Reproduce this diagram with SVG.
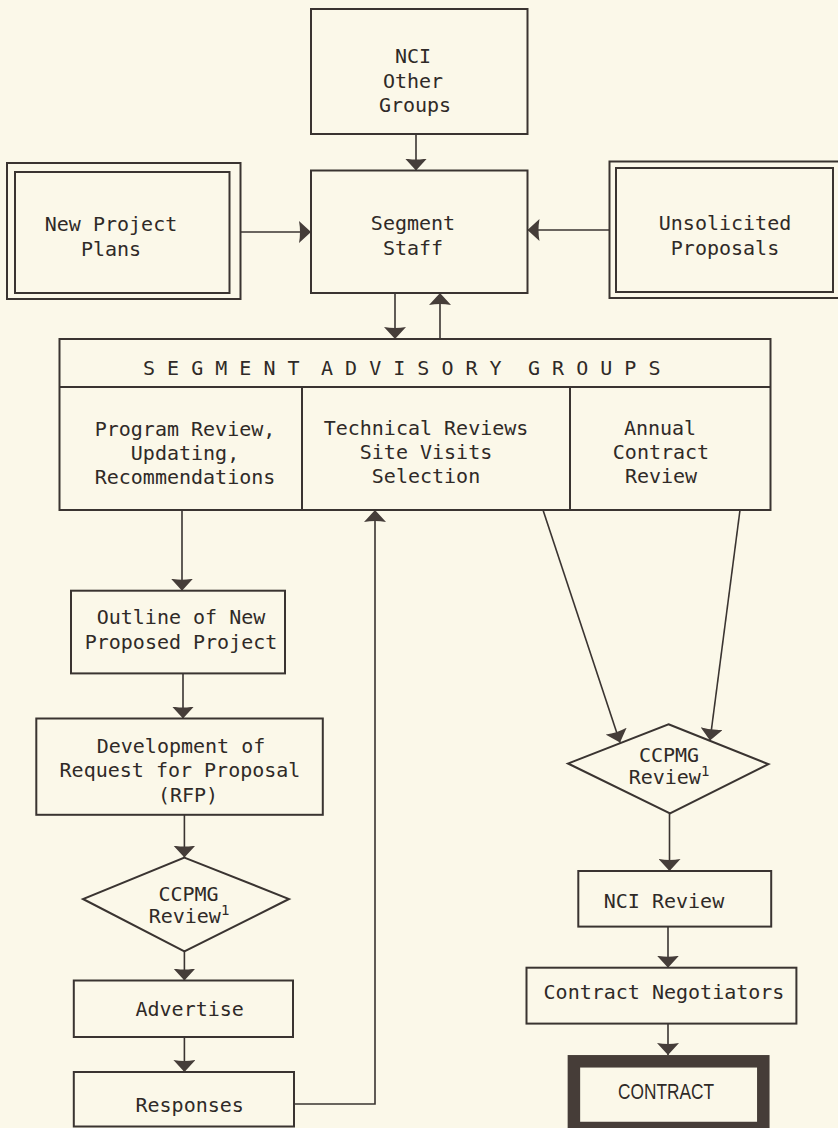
<svg xmlns="http://www.w3.org/2000/svg" width="838" height="1128" viewBox="0 0 838 1128">
<defs>
<style>
.box{fill:none;stroke:#3a3431;stroke-width:2}
.ln{fill:none;stroke:#3a3431;stroke-width:1.6;marker-end:url(#ah)}
.t{font-family:"DejaVu Sans Mono","Liberation Mono",monospace;font-size:20px;fill:#2f2a27;text-anchor:middle}
.sup{font-size:14px}
</style>
<marker id="ah" viewBox="0 -11 12 22" markerWidth="12" markerHeight="22" refX="12" refY="0" orient="auto" markerUnits="userSpaceOnUse">
<path d="M0,-11 Q2,0 0,11 L12,0 Z" fill="#453d39"/>
</marker>
</defs>
<rect width="838" height="1128" fill="#fbf8e9"/>

<g id="connectors">
<path class="ln" d="M416,135 V170.5"/>
<path class="ln" d="M240.5,232 H311"/>
<path class="ln" d="M609.5,230 H527.5"/>
<path class="ln" d="M395,293 V339"/>
<path class="ln" d="M440,339 V293"/>
<path class="ln" d="M182,510 V590.7"/>
<path class="ln" d="M183,673.4 V718.5"/>
<path class="ln" d="M184.4,814.8 V857.6"/>
<path class="ln" d="M184.4,952 V980.5"/>
<path class="ln" d="M184.4,1037 V1072"/>
<path class="ln" d="M294,1104 H375 V510"/>
<path class="ln" d="M543,510 L620,742.5"/>
<path class="ln" d="M740,510 L710,740.5"/>
<path class="ln" d="M669.5,813.5 V871"/>
<path class="ln" d="M668,926.6 V967.7"/>
<path class="ln" d="M668,1023.6 V1055"/>
</g>

<g id="nci-other-groups">
<rect class="box" x="311" y="9" width="216.5" height="125"/>
<text class="t" x="413" y="63">NCI</text>
<text class="t" x="413" y="88">Other</text>
<text class="t" x="415" y="112">Groups</text>
</g>

<g id="segment-staff">
<rect class="box" x="311" y="170.5" width="216.5" height="122.5"/>
<text class="t" x="413" y="230">Segment</text>
<text class="t" x="413" y="255">Staff</text>
</g>

<g id="new-project-plans">
<rect class="box" x="7" y="163" width="233.5" height="136" stroke-width="1.6"/>
<rect class="box" x="15" y="172" width="214.5" height="121" stroke-width="1.6"/>
<text class="t" x="111" y="231">New Project</text>
<text class="t" x="111" y="256">Plans</text>
</g>

<g id="unsolicited-proposals">
<path class="box" stroke-width="1.6" d="M840,161.5 H609.5 V298 H840"/>
<rect class="box" x="616" y="168" width="217" height="124" stroke-width="1.6"/>
<text class="t" x="725" y="230">Unsolicited</text>
<text class="t" x="725" y="255">Proposals</text>
</g>

<g id="segment-advisory-groups">
<rect class="box" x="59.5" y="339" width="711" height="171"/>
<line class="box" x1="59.5" y1="387" x2="770.5" y2="387"/>
<line class="box" x1="302" y1="387" x2="302" y2="510"/>
<line class="box" x1="570" y1="387" x2="570" y2="510"/>
<text class="t" y="375" style="text-anchor:start"><tspan x="143">S E G M E N T</tspan><tspan x="321">A D V I S O R Y</tspan><tspan x="528">G R O U P S</tspan></text>
<text class="t" x="185" y="436">Program Review,</text>
<text class="t" x="185" y="460">Updating,</text>
<text class="t" x="185" y="484">Recommendations</text>
<text class="t" x="426" y="435">Technical Reviews</text>
<text class="t" x="426" y="459">Site Visits</text>
<text class="t" x="426" y="483">Selection</text>
<text class="t" x="660" y="435">Annual</text>
<text class="t" x="661" y="459">Contract</text>
<text class="t" x="661" y="483">Review</text>
</g>

<g id="outline-new-project">
<rect class="box" x="71" y="590.7" width="214" height="82.7"/>
<text class="t" x="181" y="624">Outline of New</text>
<text class="t" x="181" y="649">Proposed Project</text>
</g>

<g id="development-rfp">
<rect class="box" x="36.3" y="718.5" width="286.5" height="96.3"/>
<text class="t" x="181" y="753">Development of</text>
<text class="t" x="180" y="777">Request for Proposal</text>
<text class="t" x="188" y="802">(RFP)</text>
</g>

<g id="ccpmg-review-left">
<polygon class="box" stroke-width="1.6" points="184.4,857.6 289,899 184.4,951.5 83,899"/>
<text class="t" x="188.5" y="901">CCPMG</text>
<text class="t" x="189" y="923">Review<tspan class="sup" dy="-8">1</tspan></text>
</g>

<g id="advertise">
<rect class="box" x="73.8" y="980.5" width="219.2" height="56.5"/>
<text class="t" x="189.7" y="1016">Advertise</text>
</g>

<g id="responses">
<rect class="box" x="73.8" y="1072" width="220.2" height="54.5"/>
<text class="t" x="189.7" y="1112">Responses</text>
</g>

<g id="ccpmg-review-right">
<polygon class="box" stroke-width="1.6" points="668.5,724.3 768.5,764.2 670,813.3 568,763.5"/>
<text class="t" x="669" y="762">CCPMG</text>
<text class="t" x="669" y="784">Review<tspan class="sup" dy="-8">1</tspan></text>
</g>

<g id="nci-review">
<rect class="box" x="578.3" y="871" width="192.9" height="55.6"/>
<text class="t" x="664" y="908">NCI Review</text>
</g>

<g id="contract-negotiators">
<rect class="box" x="526.5" y="967.7" width="269.9" height="55.9"/>
<text class="t" x="664" y="999">Contract Negotiators</text>
</g>

<g id="contract">
<rect x="573.9" y="1061.3" width="189.4" height="66.7" fill="none" stroke="#463d38" stroke-width="12.5"/>
<text x="666" y="1099" textLength="96" lengthAdjust="spacingAndGlyphs" style="font-family:'Liberation Sans Narrow','Liberation Sans',sans-serif;font-size:22px;fill:#2f2a27;text-anchor:middle">CONTRACT</text>
</g>
</svg>
